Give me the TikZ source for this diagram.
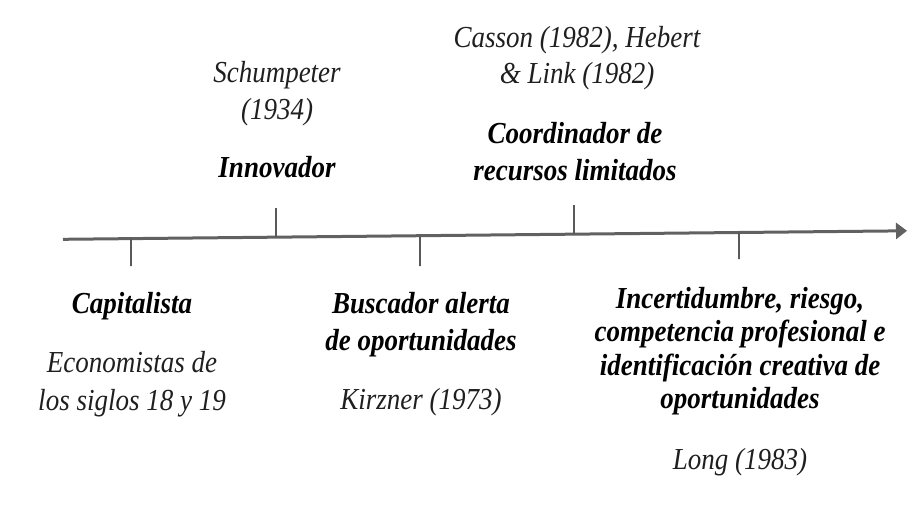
\documentclass[tikz,border=0pt]{standalone}
\usepackage{graphicx}
\usepackage{fontspec}
\setmainfont{Liberation Serif}
\usetikzlibrary{arrows.meta,calc}
\newcommand{\vstretch}[1]{\scalebox{1}[1.13]{#1}}
\tikzset{
  cite/.style={font=\itshape\fontsize{27}{37}\selectfont, inner sep=0pt, anchor=base, text=black!88},
  role/.style={font=\bfseries\itshape\fontsize{27}{37}\selectfont, inner sep=0pt, anchor=base, text=black},
  axis/.style={draw=black!62, line width=3pt, -{Triangle[length=11pt,width=16pt]}},
  tickline/.style={draw=black!65, line width=1.8pt}
}
\begin{document}
\begin{tikzpicture}[x=1pt,y=-1pt]
\fill[white] (0,0) rectangle (907,512);
\useasboundingbox (0,0) rectangle (907,512);
% axis
\coordinate (L0) at (63,239.3);
\coordinate (L1) at (907,230.8);
\draw[axis] (L0) -- (L1);
% ticks
\coordinate (t1) at ($(L0)!0.0806!(L1)$);
\coordinate (t2) at ($(L0)!0.2524!(L1)$);
\coordinate (t3) at ($(L0)!0.4230!(L1)$);
\coordinate (t4) at ($(L0)!0.6055!(L1)$);
\coordinate (t5) at ($(L0)!0.8010!(L1)$);
\coordinate (e1) at (131,266);
\coordinate (e2) at (276,208);
\coordinate (e3) at (420,266);
\coordinate (e4) at (574,205);
\coordinate (e5) at (739,259);
\draw[tickline] (t1) -- (e1);
\draw[tickline] (t2) -- (e2);
\draw[tickline] (t3) -- (e3);
\draw[tickline] (t4) -- (e4);
\draw[tickline] (t5) -- (e5);
% top left group
\node[cite] (sch1) at (277,82) {\vstretch{Schumpeter}};
\node[cite] (sch2) at (277,119) {\vstretch{(1934)}};
\node[role] (inn) at (277,177) {\vstretch{Innovador}};
% top right group
\node[cite] (cas1) at (577,47) {\vstretch{Casson (1982), Hebert}};
\node[cite] (cas2) at (577,83) {\vstretch{\& Link (1982)}};
\node[role] (coo1) at (575,143) {\vstretch{Coordinador de}};
\node[role] (coo2) at (575,180) {\vstretch{recursos limitados}};
% bottom left
\node[role] (cap) at (132,313) {\vstretch{Capitalista}};
\node[cite] (eco1) at (132,372) {\vstretch{Economistas de}};
\node[cite] (eco2) at (132,410) {\vstretch{los siglos 18 y 19}};
% bottom middle
\node[role] (bus1) at (421,313) {\vstretch{Buscador alerta}};
\node[role] (bus2) at (421,350) {\vstretch{de oportunidades}};
\node[cite] (kir) at (421,409) {\vstretch{Kirzner (1973)}};
% bottom right
\node[role] (inc1) at (740,308) {\vstretch{Incertidumbre, riesgo,}};
\node[role] (inc2) at (740,341.5) {\vstretch{competencia profesional e}};
\node[role] (inc3) at (740,375) {\vstretch{identificación creativa de}};
\node[role] (inc4) at (740,408.5) {\vstretch{oportunidades}};
\node[cite] (lon) at (740,469) {\vstretch{Long (1983)}};
\end{tikzpicture}
\end{document}
